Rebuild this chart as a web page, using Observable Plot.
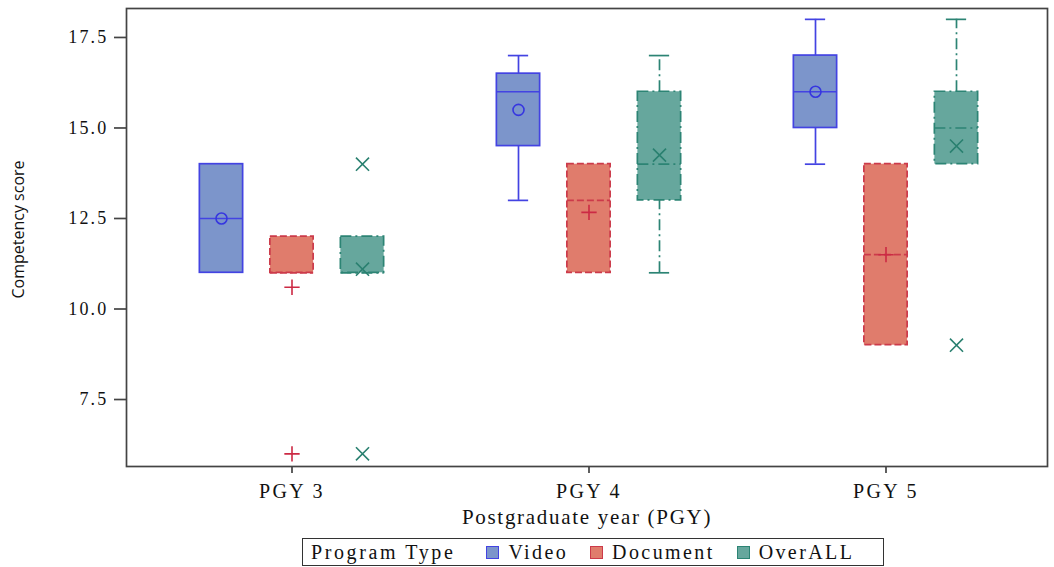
<!DOCTYPE html>
<html><head><meta charset="utf-8">
<script src="https://cdn.jsdelivr.net/npm/d3@7"></script>
<script src="https://cdn.jsdelivr.net/npm/@observablehq/plot@0.6"></script>
<style>
body{margin:0;background:#fff;}
#wrap{position:relative;width:1054px;height:567px;}
#legend{position:absolute;left:302px;top:538px;width:582px;height:28px;border:1.5px solid #333;box-sizing:border-box;
  display:flex;align-items:center;font-family:"Liberation Serif",serif;font-size:20px;color:#111;white-space:nowrap;}
#legend .title{margin-left:8px;margin-right:31px;letter-spacing:2.6px;}
#legend .sw{display:inline-block;width:11px;height:11px;margin-right:9px;}
#legend .lab{margin-right:22px;letter-spacing:2.4px;}
</style></head><body><div id="wrap"></div>
<script>
// ---- data ----
const groups = ["PGY 3", "PGY 4", "PGY 5"];
const programs = ["Video", "Document", "OverALL"];
const yTicks = [7.5, 10, 12.5, 15, 17.5];

const videoMin    = [11, 13, 14];
const videoQ1     = [11, 14.5, 15];
const videoMedian = [12.5, 16, 16];
const videoQ3     = [14, 16.5, 17];
const videoMax    = [14, 17, 18];
const videoMean   = [12.5, 15.5, 16];
const videoOutliers = [[], [], []];

const documentMin    = [11, 11, 9];
const documentQ1     = [11, 11, 9];
const documentMedian = [11, 13, 11.5];
const documentQ3     = [12, 14, 14];
const documentMax    = [12, 14, 14];
const documentMean   = [10.6, 12.67, 11.5];
const documentOutliers = [[6], [], []];

const overallMin    = [11, 11, 14];
const overallQ1     = [11, 13, 14];
const overallMedian = [11, 14, 15];
const overallQ3     = [12, 16, 16];
const overallMax    = [12, 17, 18];
const overallMean   = [11.1, 14.25, 14.5];
const overallOutliers = [[14, 6], [], [9]];

// ---- styles ----
const styles = {
  Video:    {fill: "#7c95cb", stroke: "#4343e2", mark: "#3636e0", dash: null, symbol: "circle", r: 5.5, offset: -1},
  Document: {fill: "#e07c6c", stroke: "#cc3a4a", mark: "#cc2a44", dash: "7,3", symbol: "plus", r: 5, offset: 0},
  OverALL:  {fill: "#66a79d", stroke: "#2c8474", mark: "#2a8070", dash: "11,4,2,4", symbol: "times", r: 6, offset: 1}
};
const seriesData = {
  Video: [videoMin, videoQ1, videoMedian, videoQ3, videoMax, videoMean, videoOutliers],
  Document: [documentMin, documentQ1, documentMedian, documentQ3, documentMax, documentMean, documentOutliers],
  OverALL: [overallMin, overallQ1, overallMedian, overallQ3, overallMax, overallMean, overallOutliers]
};

const xOpts = {type: "band", domain: groups, range: [126, 1047], paddingInner: 0.1, paddingOuter: 0.098, align: 0.53};
const xs = Plot.scale({x: xOpts});
const bw = xs.bandwidth;
const boxW = 44, capW = 21, step = 70.5;
const boxInset = (bw - boxW) / 2, capInset = (bw - capW) / 2;

const marks = [];
for (const p of programs) {
  const s = styles[p];
  const [mn, q1, md, q3, mx, mean, outs] = seriesData[p];
  const rows = groups.map((g, i) => ({group: g, min: mn[i], q1: q1[i], median: md[i], q3: q3[i], max: mx[i], mean: mean[i]}));
  const outRows = groups.flatMap((g, i) => outs[i].map(v => ({group: g, value: v})));
  const dx = s.offset * step;
  const common = {x: "group", dx, stroke: s.stroke, strokeWidth: 1.7, strokeDasharray: s.dash};
  marks.push(Plot.barY(rows, {...common, y1: "q1", y2: "q3", fill: s.fill, insetLeft: boxInset, insetRight: boxInset}));
  const low = rows.filter(d => d.min < d.q1), high = rows.filter(d => d.max > d.q3);
  marks.push(Plot.ruleX(low, {...common, y1: "min", y2: "q1"}));
  marks.push(Plot.ruleX(high, {...common, y1: "q3", y2: "max"}));
  marks.push(Plot.tickY(low, {x: "group", dx, y: "min", stroke: s.stroke, strokeWidth: 1.7, insetLeft: capInset, insetRight: capInset}));
  marks.push(Plot.tickY(high, {x: "group", dx, y: "max", stroke: s.stroke, strokeWidth: 1.7, insetLeft: capInset, insetRight: capInset}));
  marks.push(Plot.tickY(rows, {...common, y: "median", insetLeft: boxInset, insetRight: boxInset}));
  marks.push(Plot.dot(rows, {x: "group", dx, y: "mean", symbol: s.symbol, r: s.r, stroke: s.mark, fill: "none", strokeWidth: 1.6}));
  marks.push(Plot.dot(outRows, {x: "group", dx, y: "value", symbol: s.symbol, r: s.r, stroke: s.mark, fill: "none", strokeWidth: 1.6}));
}
marks.push(Plot.frame({stroke: "#444", strokeWidth: 1.7}));
marks.push(Plot.text(["Postgraduate year (PGY)"], {text: d => d, frameAnchor: "bottom", textAnchor: "middle", dy: 57, fontSize: 21, fontFamily: "Liberation Serif", fill: "#111"}));
marks.push(Plot.text(["Competency score"], {text: d => d, frameAnchor: "left", textAnchor: "middle", rotate: -90, dx: -108, dy: -8, fontSize: 16, fontFamily: "Open Sans", fill: "#111"}));

const chart = Plot.plot({
  width: 1054, height: 535,
  marginLeft: 126, marginRight: 7, marginTop: 8, marginBottom: 69,
  style: {fontFamily: "Liberation Serif", fontSize: "16px", color: "#111", background: "#fff"},
  x: {...xOpts, range: undefined, tickSize: 7, tickPadding: 10, label: null},
  y: {domain: [5.65, 18.3], ticks: yTicks, tickFormat: d3.format(".1f"), tickSize: 12, tickPadding: 6, label: null},
  marks
});
const wrap = document.getElementById("wrap");
wrap.appendChild(chart);

const svg = d3.select(chart);
svg.selectAll('[aria-label^="x-axis"] text').style("font-size", "20px").style("letter-spacing", "2.3px");
svg.selectAll('[aria-label^="y-axis"] text').style("font-size", "18px").style("letter-spacing", "2.2px");
svg.selectAll('[aria-label^="x-axis"] line, [aria-label^="y-axis"] line, [aria-label^="x-axis"] path, [aria-label^="y-axis"] path').attr("stroke", "#444").attr("stroke-width", 1.7);
svg.selectAll("text").filter(function () { return this.textContent === "Postgraduate year (PGY)"; }).style("letter-spacing", "1.7px");

// legend
const legend = document.createElement("div");
legend.id = "legend";
const t = document.createElement("span"); t.className = "title"; t.textContent = "Program Type"; legend.appendChild(t);
for (const p of programs) {
  const sw = document.createElement("span"); sw.className = "sw";
  sw.style.background = styles[p].fill; sw.style.border = "1.5px solid " + styles[p].stroke;
  legend.appendChild(sw);
  const l = document.createElement("span"); l.className = "lab"; l.textContent = p; legend.appendChild(l);
}
wrap.appendChild(legend);
</script></body></html>
